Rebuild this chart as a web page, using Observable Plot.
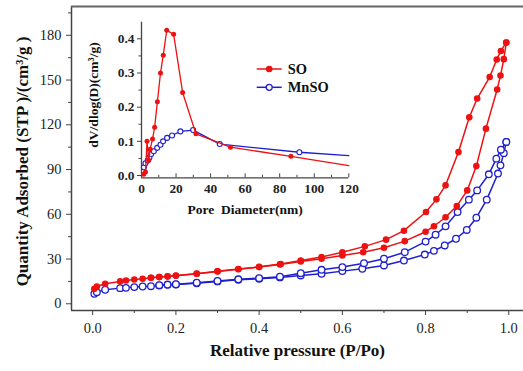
<!DOCTYPE html>
<html><head><meta charset="utf-8">
<script src="https://cdn.jsdelivr.net/npm/d3@7"></script>
<script src="https://cdn.jsdelivr.net/npm/@observablehq/plot@0.6"></script>
<style>
html,body{margin:0;padding:0;background:#fff;}
#chart{position:relative;width:523px;height:371px;}
#chart svg{position:absolute;left:0;top:0;}
</style></head><body><div id="chart"></div>
<script>
// ---- Main isotherm data (relative pressure P/Po, quantity adsorbed cm3/g) ----
const soAdsP = [0.004,0.01,0.03,0.066,0.08,0.1,0.12,0.14,0.16,0.18,0.2,0.25,0.3,0.35,0.4,0.45,0.5,0.55,0.6,0.65,0.7,0.75,0.8,0.82,0.848,0.875,0.9,0.922,0.945,0.972,0.98,0.988,0.994];
const soAdsV = [10,11.6,13.4,15,15.6,16.3,16.8,17.4,17.9,18.3,18.8,20.1,21.7,23.2,24.6,26.4,28.4,30.2,32.4,34.6,37.6,42,48.3,52,58,65.5,76,92.3,117.4,143.7,153,164,175.2];
const soDesP = [0.994,0.981,0.971,0.954,0.924,0.905,0.879,0.848,0.826,0.801,0.748,0.705,0.654,0.6,0.55,0.5,0.452,0.4,0.35,0.3,0.25,0.2,0.18,0.16,0.14];
const soDesV = [175.2,169.5,163.8,152,137.6,125,101.7,79.4,70,61.5,49,43,38.5,34.6,31.3,29,26.6,24.8,23.3,21.8,20.2,18.9,18.4,18,17.5];
const mnAdsP = [0.004,0.01,0.03,0.066,0.08,0.1,0.12,0.14,0.16,0.18,0.2,0.25,0.3,0.35,0.4,0.45,0.5,0.55,0.6,0.648,0.7,0.748,0.798,0.82,0.846,0.873,0.899,0.922,0.947,0.974,0.98,0.988,0.994];
const mnAdsV = [6.7,7.8,9.4,10.5,10.7,11.2,11.6,11.8,12.3,12.7,12.9,13.8,15,16.1,16.8,17.7,19,20.1,21.9,23.5,25.7,29,33,35.5,39.1,43.6,49.5,57.7,69.8,87.3,92.8,101,108.5];
const mnDesP = [0.994,0.981,0.97,0.952,0.924,0.904,0.877,0.848,0.824,0.8,0.75,0.7,0.652,0.6,0.55,0.5,0.45,0.4,0.35,0.3,0.25,0.2,0.18,0.16];
const mnDesV = [108.5,103.3,97.3,86.8,76,69.8,61.5,51.9,46.3,41.7,34.6,30.2,27.2,24.6,22.8,20.5,18.2,17.2,16.4,15.3,14.1,13.1,12.9,12.5];

// ---- Inset pore size distribution (diameter nm, dV/dlog(D)) ----
const inSoD = [1.3,2.3,3.2,4.2,5.0,6.4,7.6,9.2,11,12.6,14.6,18.6,23.8,31.5,51.5,86.5,120];
const inSoV = [0.004,0.01,0.1,0.045,0.077,0.107,0.141,0.216,0.3,0.352,0.425,0.413,0.243,0.122,0.083,0.056,0.029];
const inMnD = [1.4,2.3,3.6,4.6,5.6,7.1,9.1,11,12.5,14.8,17.7,22.5,29.9,45.3,91.4,120];
const inMnV = [0.024,0.036,0.044,0.053,0.063,0.071,0.081,0.09,0.1,0.11,0.117,0.129,0.133,0.092,0.068,0.058];

// ---- Ticks & labels ----
const xTicks = [0,0.2,0.4,0.6,0.8,1.0];
const xMinor = [0.1,0.3,0.5,0.7,0.9];
const yTicks = [0,30,60,90,120,150,180];
const yMinor = [15,45,75,105,135,165,195];
const inXTicks = [0,20,40,60,80,100,120];
const inXMinor = [10,30,50,70,90,110];
const inYTicks = [0,0.1,0.2,0.3,0.4];
const inYMinor = [0.05,0.15,0.25,0.35];
const seriesNames = ["SO","MnSO"];
const xLabel = "Relative pressure (P/Po)";
const yLabel = "Quantity Adsorbed (STP )/(cm\u00B3/g )";
const inXLabel = "Pore  Diameter(nm)";
const inYLabel = "dV/dlog(D)(cm\u00B3/g)";

// ---- Font detection & fitting (so text widths match the reference) ----
const ctx = document.createElement("canvas").getContext("2d");
function hasFont(f) {
  const s = "mmmmmmmmmmlli0OWQ";
  for (const base of ["monospace", "sans-serif", "serif"]) {
    ctx.font = `72px ${base}`; const w0 = ctx.measureText(s).width;
    ctx.font = `72px "${f}", ${base}`; const w1 = ctx.measureText(s).width;
    if (w0 !== w1) return true;
  }
  return false;
}
const serifCands = ["Liberation Serif", "Tinos", "Times New Roman", "Nimbus Roman", "Nimbus Roman No9 L", "Noto Serif", "DejaVu Serif"];
const found = serifCands.find(hasFont);
const font = found ? `"${found}", serif` : "serif";
function fit(text, weight, target, maxSize) {
  ctx.font = `${weight} 100px ${font}`;
  const w = ctx.measureText(text).width / 100;
  return Math.min(maxSize, target / w);
}
const fsYLabel = fit(yLabel, "bold", 272, 17);
const fsXLabel = fit(xLabel, "bold", 177, 17);
const fsInY = fit(inYLabel, "bold", 112, 13.5);
const fsInX = fit(inXLabel, "bold", 117, 13.5);
const fsTick = fit("180", "normal", 21.7, 16);
const fsInTick = fit("0.4", "bold", 16.7, 13.5);
const fsLeg = fit("MnSO", "bold", 41, 16);

const RED = "#ee1111", BLUE = "#1f1fd0", AX = "#444";
const pts = (P, V) => P.map((p, i) => ({x: p, y: V[i]}));

const xDom = [-0.0509, 1.0353], yDom = [-4.5, 199.3];
const W = 523, H = 371;

const main = Plot.plot({
  width: W, height: H, marginLeft: 71, marginRight: 0, marginTop: 6, marginBottom: 61,
  style: {fontFamily: font, background: "transparent", color: "#222", overflow: "visible"},
  x: {domain: xDom}, y: {domain: yDom},
  marks: [
    Plot.axisX({ticks: xTicks, tickSize: 5, tickPadding: 7, tickFormat: d3.format(".1f"), fontSize: fsTick, label: null, stroke: AX}),
    Plot.axisX({ticks: xMinor, tickSize: 3, tickFormat: () => "", label: null, stroke: AX}),
    Plot.axisY({ticks: yTicks, tickSize: 5, tickPadding: 5, fontSize: fsTick, label: null, stroke: AX}),
    Plot.axisY({ticks: yMinor.filter(v => v < yDom[1]), tickSize: 3, tickFormat: () => "", label: null, stroke: AX}),
    Plot.ruleX([xDom[0]], {stroke: AX, strokeWidth: 1.5}),
    Plot.ruleY([yDom[0]], {stroke: AX, strokeWidth: 1.5}),
    Plot.ruleY([yDom[1]], {stroke: "#666", strokeWidth: 2}),
    Plot.line(pts(mnAdsP, mnAdsV), {x: "x", y: "y", stroke: BLUE, strokeWidth: 1.5}),
    Plot.line(pts(mnDesP, mnDesV), {x: "x", y: "y", stroke: BLUE, strokeWidth: 1.5}),
    Plot.dot(pts(mnAdsP, mnAdsV), {x: "x", y: "y", r: 3.3, fill: "white", stroke: BLUE, strokeWidth: 1.3}),
    Plot.dot(pts(mnDesP, mnDesV), {x: "x", y: "y", r: 3.3, fill: "white", stroke: BLUE, strokeWidth: 1.3}),
    Plot.line(pts(soAdsP, soAdsV), {x: "x", y: "y", stroke: RED, strokeWidth: 1.5}),
    Plot.line(pts(soDesP, soDesV), {x: "x", y: "y", stroke: RED, strokeWidth: 1.5}),
    Plot.dot(pts(soAdsP, soAdsV), {x: "x", y: "y", r: 3.3, fill: RED}),
    Plot.dot(pts(soDesP, soDesV), {x: "x", y: "y", r: 3.3, fill: RED}),
    Plot.text([xLabel], {frameAnchor: "bottom", dy: 45, textAnchor: "middle", fontSize: fsXLabel, fontWeight: "bold", fill: "#111"}),
    Plot.text([yLabel], {frameAnchor: "left", dx: -49, dy: 3, textAnchor: "middle", rotate: -90, fontSize: fsYLabel, fontWeight: "bold", fill: "#111"})
  ]
});

// ---- Inset ----
const inM = {top: 21.7, bottom: 193.7, left: 141, right: 174.7};
const inFrameH = H - inM.top - inM.bottom;
const inXDom = [0, 120], inYDom = [-0.0067, 0.4486];
const inset = Plot.plot({
  width: W, height: H, marginLeft: inM.left, marginRight: inM.right, marginTop: inM.top, marginBottom: inM.bottom,
  style: {fontFamily: font, background: "transparent", color: "#222", overflow: "visible"},
  x: {domain: inXDom}, y: {domain: inYDom},
  marks: [
    Plot.axisX({ticks: inXTicks, tickSize: 0, tickPadding: 6, fontSize: fsInTick, fontWeight: "bold", label: null}),
    Plot.ruleX(inXTicks, {stroke: AX, insetTop: inFrameH - 4}),
    Plot.ruleX(inXMinor, {stroke: AX, insetTop: inFrameH - 2.5}),
    Plot.axisY({ticks: inYTicks, tickSize: 4, tickPadding: 3, tickFormat: d3.format(".1f"), fontSize: fsInTick, fontWeight: "bold", label: null, stroke: AX}),
    Plot.axisY({ticks: inYMinor, tickSize: 2.5, tickFormat: () => "", label: null, stroke: AX}),
    Plot.ruleX([inXDom[0]], {stroke: AX, strokeWidth: 1.3}),
    Plot.ruleY([inYDom[0]], {stroke: AX, strokeWidth: 1.3}),
    Plot.line(pts(inMnD, inMnV), {x: "x", y: "y", stroke: BLUE, strokeWidth: 1.3}),
    Plot.dot(pts(inMnD, inMnV).slice(0, -1), {x: "x", y: "y", r: 2.5, fill: "white", stroke: BLUE, strokeWidth: 1.1}),
    Plot.line(pts(inSoD, inSoV), {x: "x", y: "y", stroke: RED, strokeWidth: 1.3}),
    Plot.dot(pts(inSoD, inSoV).slice(0, -1), {x: "x", y: "y", r: 2.5, fill: RED}),
    Plot.text([inXLabel], {frameAnchor: "bottom", dy: 36, textAnchor: "middle", fontSize: fsInX, fontWeight: "bold", fill: "#111"}),
    Plot.text([inYLabel], {frameAnchor: "left", dx: -48, dy: -5, textAnchor: "middle", rotate: -90, fontSize: fsInY, fontWeight: "bold", fill: "#111"})
  ]
});

// ---- Legend (inside inset) ----
const leg = d3.select(inset).append("g").attr("font-family", font).attr("text-anchor", "start");
[[RED, true], [BLUE, false]].forEach(([c, filled], i) => {
  const y = 69 + i * 18.3;
  const g = leg.append("g").attr("transform", `translate(256.7,${y})`);
  g.append("line").attr("x1", 0).attr("x2", 25).attr("stroke", c).attr("stroke-width", 1.5);
  g.append("circle").attr("cx", 12.5).attr("r", filled ? 3.3 : 3).attr("fill", filled ? c : "white").attr("stroke", c).attr("stroke-width", filled ? 0 : 1.3);
  g.append("text").attr("x", 31).attr("dy", "0.35em").attr("text-anchor", "start").attr("font-size", fsLeg).attr("font-weight", "bold").attr("fill", "#111").text(seriesNames[i]);
});

const root = document.getElementById("chart");
root.appendChild(main);
root.appendChild(inset);
</script></body></html>
